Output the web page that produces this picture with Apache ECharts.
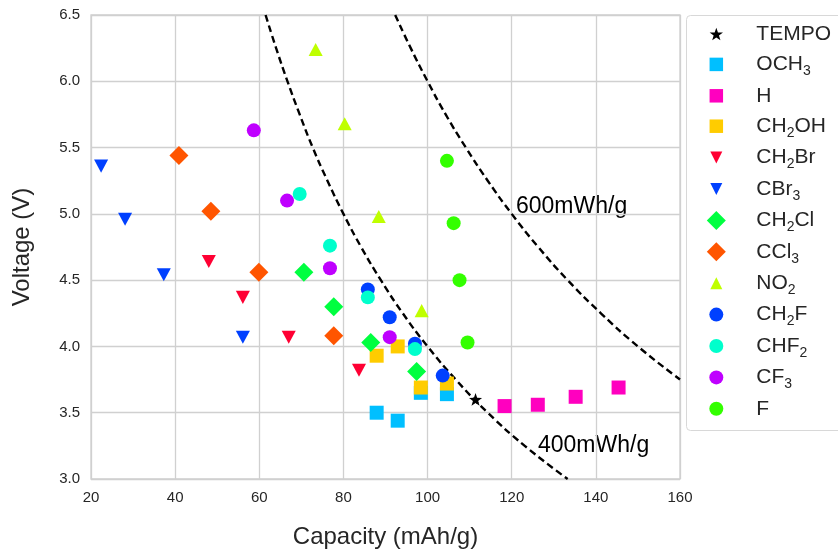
<!DOCTYPE html>
<html>
<head>
<meta charset="utf-8">
<script src="https://cdn.jsdelivr.net/npm/echarts@6/dist/echarts.min.js"></script>
<style>
html,body{margin:0;padding:0;background:#fff;}
#chart{width:838px;height:551px;}
</style>
</head>
<body>
<div id="chart"></div>
<script>
// ---- data ----
const seriesNames = ['TEMPO','OCH3','H','CH2OH','CH2Br','CBr3','CH2Cl','CCl3','NO2','CH2F','CHF2','CF3','F'];

const capTEMPO = [111.4];               const volTEMPO = [3.60];
const capOCH3  = [87.9, 92.9, 98.4, 104.6]; const volOCH3  = [3.50, 3.44, 3.65, 3.64];
const capH     = [118.3, 126.2, 135.2, 145.4]; const volH  = [3.55, 3.56, 3.62, 3.69];
const capCH2OH = [87.9, 92.9, 98.4, 104.6]; const volCH2OH = [3.93, 4.00, 3.69, 3.72];
const capCH2Br = [48.0, 56.1, 67.0, 83.7];  const volCH2Br = [4.64, 4.37, 4.07, 3.82];
const capCBr3  = [22.4, 28.1, 37.3, 56.1];  const volCBr3  = [5.36, 4.96, 4.54, 4.07];
const capCH2Cl = [70.6, 77.7, 86.5, 97.4];  const volCH2Cl = [4.56, 4.30, 4.03, 3.81];
const capCCl3  = [40.9, 48.5, 59.9, 77.7];  const volCCl3  = [5.44, 5.02, 4.56, 4.08];
const capNO2   = [73.4, 80.3, 88.4, 98.6];  const volNO2   = [6.24, 5.68, 4.98, 4.27];
const capCH2F  = [85.8, 91.0, 97.0, 103.6]; const volCH2F  = [4.43, 4.22, 4.02, 3.78];
const capCHF2  = [69.6, 76.8, 85.8, 97.0];  const volCHF2  = [5.15, 4.76, 4.37, 3.98];
const capCF3   = [58.7, 66.6, 76.8, 91.0];  const volCF3   = [5.63, 5.10, 4.59, 4.07];
const capF     = [104.6, 106.2, 107.6, 109.5]; const volF  = [5.40, 4.93, 4.50, 4.03];

// iso-energy dashed curves
const cap400 = [61.5, 64.0, 66.7, 69.6, 72.7, 76.2, 80.0, 84.2, 88.9, 94.1, 100.0, 106.7, 114.3, 123.1, 133.3];
const vol400 = [6.50, 6.25, 6.00, 5.75, 5.50, 5.25, 5.00, 4.75, 4.50, 4.25, 4.00, 3.75, 3.50, 3.25, 3.00];
const cap600 = [92.3, 96.0, 100.0, 104.3, 109.1, 114.3, 120.0, 126.3, 133.3, 141.2, 150.0, 160.0];
const vol600 = [6.50, 6.25, 6.00, 5.75, 5.50, 5.25, 5.00, 4.75, 4.50, 4.25, 4.00, 3.75];
const curveLabels = ['600mWh/g', '400mWh/g'];

const xTicks = [20, 40, 60, 80, 100, 120, 140, 160];
const yTicks = [3.0, 3.5, 4.0, 4.5, 5.0, 5.5, 6.0, 6.5];

// ---- marker shapes (10x10 core, padded bounding box so legend icons keep relative sizes) ----
function padded(core, pad) {
  return 'path://' + core + ' M' + (-pad) + ',' + (-pad) + ' M' + (10 + pad) + ',' + (10 + pad);
}
const STAR = 'path://M0,-10 L2.35,-3.24 L9.51,-3.09 L3.8,1.24 L5.88,8.09 L0,4 L-5.88,8.09 L-3.8,1.24 L-9.51,-3.09 L-2.35,-3.24 Z M-14,-14.5 M14,12.6';
const TRI_DOWN = padded('M0,0 L10,0 L5,10 Z', 2.9);
const TRI_UP = padded('M5,0 L10,10 L0,10 Z', 2.9);
const SQUARE = padded('M0,0 L10,0 L10,10 L0,10 Z', 2.04);
const DIAMOND = 'path://M5,0 L10,5 L5,10 L0,5 Z';
const CIRCLE = padded('M0,5 A5,5 0 1,0 10,5 A5,5 0 1,0 0,5 Z', 1.79);
const styleMap = {
  TEMPO: {symbol: STAR, size: 19.2, color: '#000000'},
  OCH3:  {symbol: SQUARE, size: 19.7, color: '#00BFFF'},
  H:     {symbol: SQUARE, size: 19.7, color: '#FF00BF'},
  CH2OH: {symbol: SQUARE, size: 19.7, color: '#FFCC00'},
  CH2Br: {symbol: TRI_DOWN, size: [22.2, 20.6], color: '#FF0033'},
  CBr3:  {symbol: TRI_DOWN, size: [22.2, 20.6], color: '#0040FF'},
  CH2Cl: {symbol: DIAMOND, size: 19, color: '#00FF40'},
  CCl3:  {symbol: DIAMOND, size: 19, color: '#FF5500'},
  NO2:   {symbol: TRI_UP, size: [22.2, 20.6], color: '#BFFF00'},
  CH2F:  {symbol: CIRCLE, size: 19, color: '#0040FF'},
  CHF2:  {symbol: CIRCLE, size: 19, color: '#00FFCC'},
  CF3:   {symbol: CIRCLE, size: 19, color: '#BF00FF'},
  F:     {symbol: CIRCLE, size: 19, color: '#33FF00'}
};
const dataMap = {
  TEMPO: [capTEMPO, volTEMPO], OCH3: [capOCH3, volOCH3], H: [capH, volH],
  CH2OH: [capCH2OH, volCH2OH], CH2Br: [capCH2Br, volCH2Br], CBr3: [capCBr3, volCBr3],
  CH2Cl: [capCH2Cl, volCH2Cl], CCl3: [capCCl3, volCCl3], NO2: [capNO2, volNO2],
  CH2F: [capCH2F, volCH2F], CHF2: [capCHF2, volCHF2], CF3: [capCF3, volCF3], F: [capF, volF]
};
function zip(a, b) { return a.map((v, i) => [v, b[i]]); }

const FONT = 'Liberation Sans, Arial, sans-serif';
const TXT = '#262626';

const series = [];
[[cap600, vol600], [cap400, vol400]].forEach(function (c) {
  series.push({
    type: 'line', data: zip(c[0], c[1]), smooth: true, symbol: 'none', silent: true,
    lineStyle: {color: '#000', width: 2.4, type: [7, 4]}, z: 2
  });
});
seriesNames.forEach(function (n) {
  const s = styleMap[n];
  series.push({
    name: n, type: 'scatter', data: zip(dataMap[n][0], dataMap[n][1]),
    symbol: s.symbol, symbolSize: s.size,
    itemStyle: {color: s.color, opacity: 1},
    z: n === 'TEMPO' ? 20 : 3
  });
});

const chart = echarts.init(document.getElementById('chart'), null, {renderer: 'canvas'});
chart.setOption({
  animation: false,
  backgroundColor: '#ffffff',
  textStyle: {fontFamily: FONT},
  grid: {left: 91, right: 158, top: 15, bottom: 72, show: true, borderColor: '#d0d0d0', borderWidth: 1.3,
         containLabel: false, outerBoundsMode: 'none'},
  xAxis: {
    type: 'value', min: xTicks[0], max: xTicks[xTicks.length - 1], interval: 20,
    name: 'Capacity (mAh/g)', nameLocation: 'middle', nameGap: 46,
    nameTextStyle: {fontSize: 24, color: TXT, fontFamily: FONT},
    axisLine: {show: false}, axisTick: {show: false},
    axisLabel: {fontSize: 15, color: TXT, margin: 11, fontFamily: FONT},
    splitLine: {show: true, lineStyle: {color: '#d0d0d0', width: 1.3}}
  },
  yAxis: {
    type: 'value', min: yTicks[0], max: yTicks[yTicks.length - 1], interval: 0.5,
    name: 'Voltage (V)', nameLocation: 'middle', nameGap: 57,
    nameTextStyle: {fontSize: 24, color: TXT, fontFamily: FONT},
    axisLine: {show: false}, axisTick: {show: false},
    axisLabel: {fontSize: 15, color: TXT, margin: 11, fontFamily: FONT, formatter: v => v.toFixed(1)},
    splitLine: {show: true, lineStyle: {color: '#d0d0d0', width: 1.3}}
  },
  legend: {
    data: seriesNames, orient: 'vertical', left: 706.5, top: 21, padding: 0,
    itemWidth: 70, itemHeight: 19, itemGap: 4.4, selectedMode: false,
    formatter: function (name) {
      return ('{a|' + name.replace(/(\d)/g, '}{s|$1}{a|') + '}').replace(/\{a\|\}/g, '');
    },
    textStyle: {
      fontFamily: FONT, color: TXT,
      rich: {
        a: {fontSize: 21, lineHeight: 26, height: 26, color: TXT, fontFamily: FONT},
        s: {fontSize: 14, lineHeight: 26, height: 12, padding: [14, 0, 0, 0], color: TXT, fontFamily: FONT}
      }
    }
  },
  graphic: [
    {type: 'rect', shape: {x: 686.5, y: 15.5, width: 170, height: 415, r: 4},
     style: {fill: 'none', stroke: '#d8d8d8', lineWidth: 1}, silent: true},
    {type: 'text', left: 516, top: 195, style: {text: curveLabels[0], font: '23px ' + FONT, fill: '#000'}},
    {type: 'text', left: 538, top: 434, style: {text: curveLabels[1], font: '23px ' + FONT, fill: '#000'}}
  ],
  series: series
});
</script>
</body>
</html>
